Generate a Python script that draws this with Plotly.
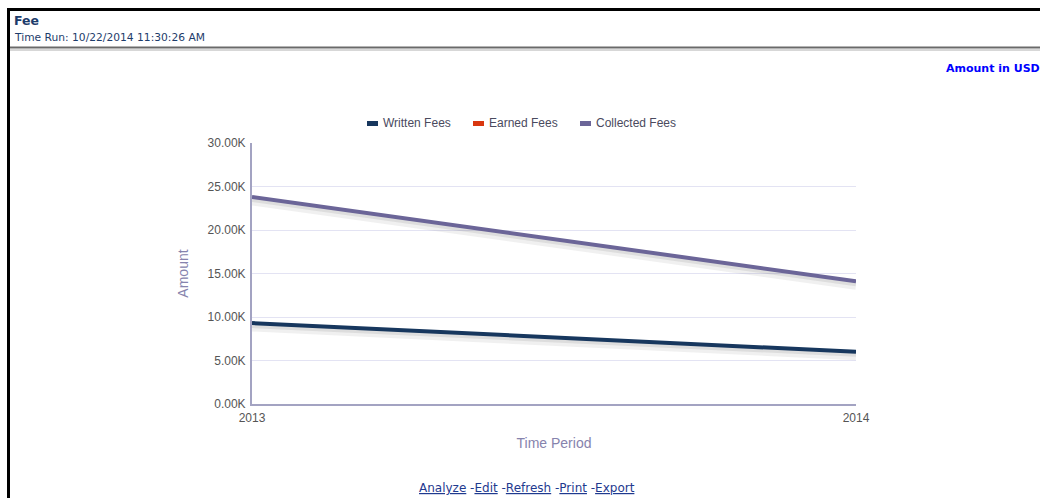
import plotly.graph_objects as go

# Report data
years = [2013, 2014]
year_labels = ["2013", "2014"]
written_fees = [9300, 6000]
earned_fees = [9300, 6000]
collected_fees = [23800, 14100]
y_ticks = [0, 5000, 10000, 15000, 20000, 25000, 30000]
y_tick_labels = [f"{v / 1000:.2f}K" for v in y_ticks]

series_names = ["Written Fees", "Earned Fees", "Collected Fees"]
series_colors = ["#17375e", "#d9370f", "#6b6598"]

W, H = 1040, 498


def px(x):
    return x / W


def py(y):
    return 1 - y / H


fig = go.Figure()

# soft drop shadow under each line
shadow_drop = 450
for vals in (written_fees, collected_fees):
    fig.add_trace(go.Scatter(
        x=years, y=[v - shadow_drop for v in vals], mode="lines",
        line=dict(color="rgba(60,60,60,0.08)", width=9),
        hoverinfo="skip", showlegend=False))
    fig.add_trace(go.Scatter(
        x=years, y=[v - shadow_drop * 0.5 for v in vals], mode="lines",
        line=dict(color="rgba(60,60,60,0.10)", width=6),
        hoverinfo="skip", showlegend=False))

# series lines: earned first so written sits on top of it
for name, vals, color, w in [
    ("Earned Fees", earned_fees, series_colors[1], 2),
    ("Written Fees", written_fees, series_colors[0], 4),
    ("Collected Fees", collected_fees, series_colors[2], 4),
]:
    fig.add_trace(go.Scatter(
        x=years, y=vals, mode="lines", name=name,
        line=dict(color=color, width=w), showlegend=False))

axis_col = "#a3a3c2"
tick_font = dict(family="Liberation Sans, Arial", size=12, color="#555555")

fig.update_layout(
    width=W, height=H,
    margin=dict(l=0, r=0, t=0, b=0, pad=0, autoexpand=False),
    paper_bgcolor="white", plot_bgcolor="white",
    xaxis=dict(
        domain=[px(252), px(856)], range=[2013, 2014], automargin=False,
        tickvals=years, ticktext=year_labels, tickfont=tick_font,
        showgrid=False, zeroline=False, showline=True, linecolor=axis_col,
        linewidth=2, ticks="", ticklabelstandoff=2,
        title=dict(text="Time Period", standoff=14,
                   font=dict(family="Liberation Sans, Arial", size=14, color="#8683ad")),
    ),
    yaxis=dict(
        domain=[py(404), py(143)], range=[0, 30000], automargin=False,
        tickvals=y_ticks, ticktext=y_tick_labels, tickfont=tick_font,
        showgrid=True, gridcolor="#e3e3f3", gridwidth=1,
        zeroline=False, showline=True, linecolor=axis_col, linewidth=2,
        ticks="", ticklabelstandoff=2,
        title=dict(text="Amount", standoff=16,
                   font=dict(family="Liberation Sans, Arial", size=14, color="#8683ad")),
    ),
)

shapes = []
# page frame
shapes.append(dict(type="line", xref="paper", yref="paper",
                   x0=px(7), x1=1, y0=py(9.5), y1=py(9.5),
                   line=dict(color="black", width=3)))
shapes.append(dict(type="line", xref="paper", yref="paper",
                   x0=px(8.5), x1=px(8.5), y0=py(8), y1=0,
                   line=dict(color="black", width=3)))
# header separator
shapes.append(dict(type="line", xref="paper", yref="paper",
                   x0=px(10), x1=1, y0=py(47.5), y1=py(47.5),
                   line=dict(color="#6a6a6a", width=2)))
shapes.append(dict(type="line", xref="paper", yref="paper",
                   x0=px(10), x1=1, y0=py(50), y1=py(50),
                   line=dict(color="#b0b0b0", width=1)))

annotations = []
# legend
legend_x = [367, 473, 580]
for name, color, lx in zip(series_names, series_colors, legend_x):
    shapes.append(dict(type="rect", xref="paper", yref="paper",
                       x0=px(lx), x1=px(lx + 11), y0=py(126), y1=py(121),
                       fillcolor=color, line=dict(width=0)))
    annotations.append(dict(text=name, xref="paper", yref="paper",
                            x=px(lx + 14), y=py(123.5), xanchor="left", yanchor="middle",
                            showarrow=False,
                            font=dict(family="Liberation Sans, Arial", size=12, color="#4a4a5e")))

# header texts
annotations.append(dict(text="<b>Fee</b>", xref="paper", yref="paper",
                        x=px(12), y=py(20), xanchor="left", yanchor="middle", showarrow=False,
                        font=dict(family="DejaVu Sans", size=12.5, color="#1d3c6b")))
annotations.append(dict(text="Time Run: 10/22/2014 11:30:26 AM", xref="paper", yref="paper",
                        x=px(12), y=py(37), xanchor="left", yanchor="middle", showarrow=False,
                        font=dict(family="DejaVu Sans", size=10.7, color="#1d3c6b")))
annotations.append(dict(text="<b>Amount in USD</b>", xref="paper", yref="paper",
                        x=px(1042), y=py(69), xanchor="right", yanchor="middle", showarrow=False,
                        font=dict(family="DejaVu Sans", size=11, color="#0000ff")))
annotations.append(dict(
    text="<u>Analyze</u> -<u>Edit</u> -<u>Refresh</u> -<u>Print</u> -<u>Export</u>",
    xref="paper", yref="paper", x=px(527), y=py(488), xanchor="center", yanchor="middle",
    showarrow=False, font=dict(family="DejaVu Sans", size=12, color="#1f3a8f")))

fig.update_layout(shapes=shapes, annotations=annotations)

fig.write_html("out.html")
